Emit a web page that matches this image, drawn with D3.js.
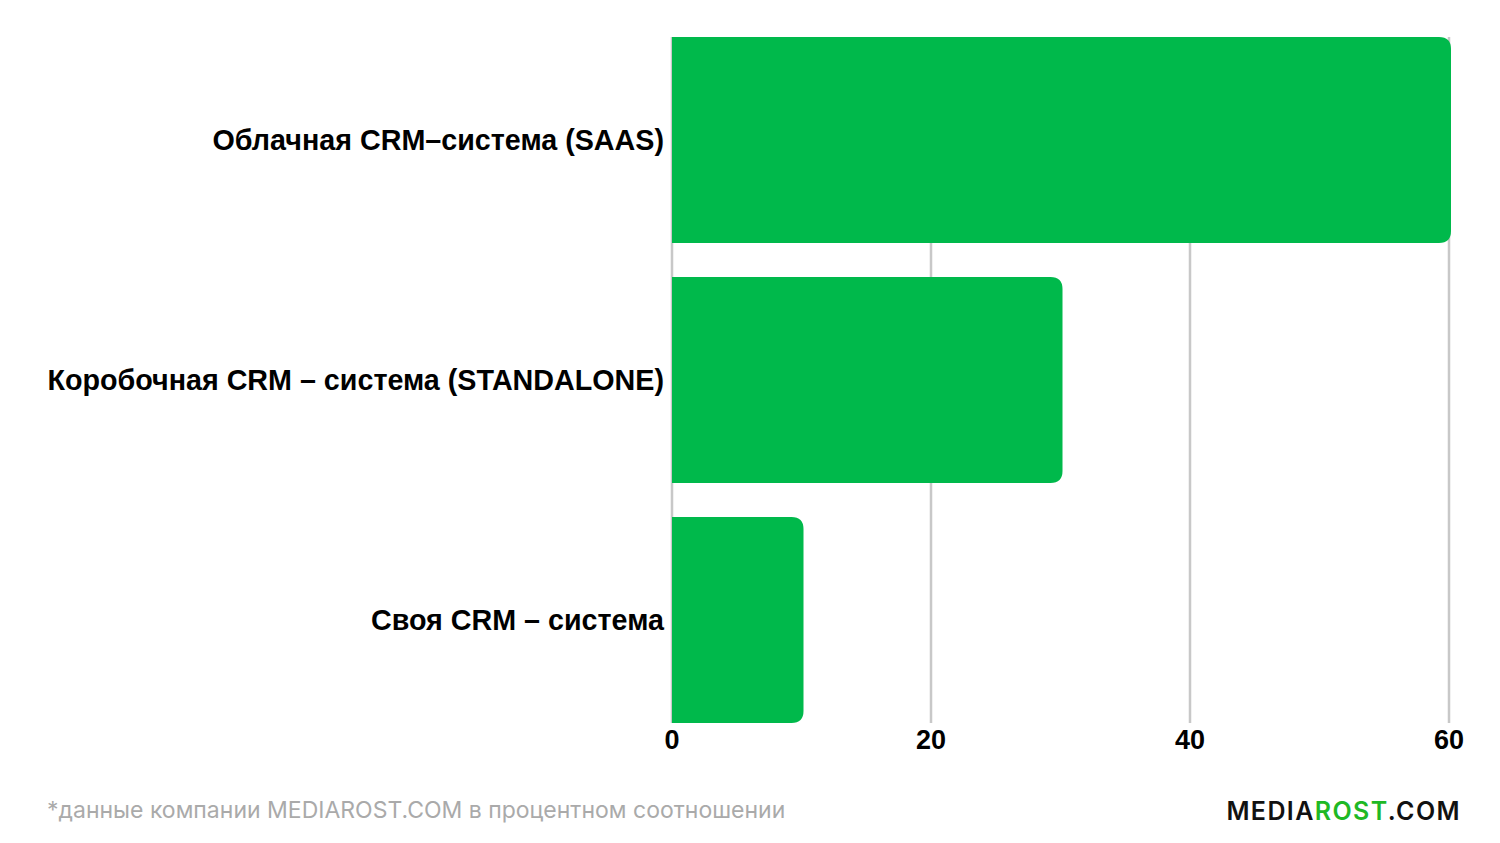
<!DOCTYPE html>
<html>
<head>
<meta charset="utf-8">
<script src="https://cdn.jsdelivr.net/npm/d3@7"></script>
<style>
  body { margin: 0; background: #fff; }
</style>
</head>
<body>
<svg id="chart" width="1500" height="843"></svg>
<script>
const categories = ["Облачная CRM–система (SAAS)", "Коробочная CRM – система (STANDALONE)", "Своя CRM – система"];
const values = [60, 30, 10];
const ticks = [0, 20, 40, 60];

const svg = d3.select("#chart"),
    margin = { top: 37, left: 672, bottom: 120, right: 51 },
    width = +svg.attr("width"),
    height = +svg.attr("height");

const x = d3.scaleLinear()
    .domain([0, 60])
    .range([margin.left, width - margin.right]);

const y = d3.scaleBand()
    .domain(categories)
    .range([margin.top, height - margin.bottom])
    .paddingInner(34 / 240)
    .paddingOuter(0);

// gridlines
svg.append("g")
    .selectAll("line")
    .data(ticks)
    .enter().append("line")
    .attr("x1", d => x(d))
    .attr("x2", d => x(d))
    .attr("y1", margin.top)
    .attr("y2", height - margin.bottom)
    .attr("stroke", "#c8c8c8")
    .attr("stroke-width", 2.5);

// bars with rounded right corners
const r = 12;
function barPath(d, i) {
    const x0 = x(0), x1 = x(d) + 2, y0 = y(categories[i]), h = y.bandwidth();
    return `M${x0},${y0}H${x1 - r}Q${x1},${y0} ${x1},${y0 + r}V${y0 + h - r}Q${x1},${y0 + h} ${x1 - r},${y0 + h}H${x0}Z`;
}
svg.append("g")
    .selectAll("path")
    .data(values)
    .enter().append("path")
    .attr("d", barPath)
    .attr("fill", "#00b94b");

// category labels
svg.append("g")
    .selectAll("text")
    .data(categories)
    .enter().append("text")
    .attr("x", x(0) - 8)
    .attr("y", d => y(d) + y.bandwidth() / 2)
    .attr("dy", "0.35em")
    .attr("text-anchor", "end")
    .attr("font-family", "Liberation Sans, Arial, sans-serif")
    .attr("font-weight", "bold")
    .attr("font-size", "28.7px")
    .attr("fill", "#000")
    .text(d => d);

// x axis tick labels
svg.append("g")
    .selectAll("text")
    .data(ticks)
    .enter().append("text")
    .attr("x", d => x(d))
    .attr("y", 749)
    .attr("text-anchor", "middle")
    .attr("font-family", "Liberation Sans, Arial, sans-serif")
    .attr("font-weight", "bold")
    .attr("font-size", "27px")
    .attr("fill", "#000")
    .text(d => d);

// footnote
svg.append("text")
    .attr("x", 47)
    .attr("y", 818)
    .attr("font-family", "Inter, 'Open Sans', sans-serif")
    .attr("font-size", "23px")
    .attr("fill", "#aaaaaa")
    .text("*данные компании MEDIAROST.COM в процентном соотношении");

// logo
const logo = svg.append("text")
    .attr("x", 1461)
    .attr("y", 820)
    .attr("text-anchor", "end")
    .attr("font-family", "Inter, 'Noto Sans', sans-serif")
    .attr("font-weight", "600")
    .attr("font-size", "25px")
    .attr("letter-spacing", "1.4px")
    .attr("fill", "#111");
logo.append("tspan").text("MEDIA");
logo.append("tspan").attr("fill", "#1fb825").text("ROST");
logo.append("tspan").text(".COM");
</script>
</body>
</html>
